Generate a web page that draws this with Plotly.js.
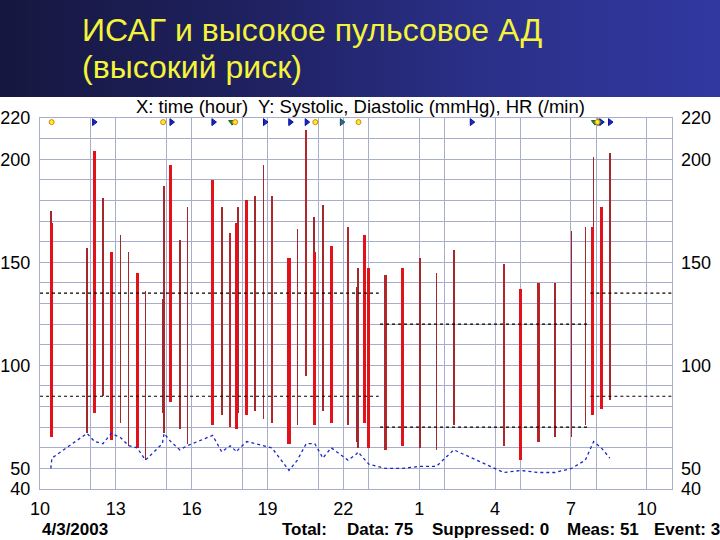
<!DOCTYPE html>
<html>
<head>
<meta charset="utf-8">
<script src="https://cdn.plot.ly/plotly-3.0.1.min.js"></script>
<style>
  html, body { margin: 0; padding: 0; background: #ffffff; }
  #wrap { width: 720px; height: 540px; position: relative;
    background: linear-gradient(to right, #16173f 0%, #1f2160 35%, #2a2f86 65%, #3138a0 100%) top left / 720px 97px no-repeat, #ffffff; }
  #chart { width: 720px; height: 540px; }
</style>
</head>
<body>
<div id="wrap"><div id="chart"></div></div>
<script>
// ---- data ----
// time in hours since 0:00 of 4/3/2003 (values > 24 are the next day)
const times = [10.43, 10.47, 11.86, 12.16, 12.49, 12.82, 13.18, 13.51, 13.84, 14.17,
  14.84, 14.91, 15.17, 15.53, 15.83, 16.83, 17.19, 17.52, 17.79, 17.83,
  18.18, 18.51, 18.84, 19.17, 19.85, 20.18, 20.53, 20.83, 20.87, 21.19,
  21.52, 22.18, 22.52, 22.58, 22.85, 23.01, 23.66, 24.35, 25.03, 25.68,
  26.37, 28.35, 29.02, 29.72, 30.37, 31.03, 31.57, 31.86, 31.90, 32.20, 32.54];
const systolic = [175, 169, 157, 204, 181, 155, 163, 155, 145, 136,
  132, 187, 197, 161, 177, 190, 177, 164, 169, 177,
  180, 182, 197, 182, 152, 166, 214, 172, 155, 178,
  158, 167, 138, 147, 163, 147, 144, 147, 152, 145,
  156, 149, 137, 140, 140, 165, 167, 167, 201, 177, 203];
const diastolic = [66, 65, 67, 77, 85, 64, 72, 61, 60, 54,
  77, 67, 82, 69, 62, 71, 76, 70, 69, 77,
  76, 78, 74, 72, 62, 71, 95, 76, 71, 78,
  72, 71, 63, 60, 72, 60, 59, 61, 60, 59,
  71, 61, 54, 63, 65, 65, 71, 76, 77, 79, 83];
const heartRate = [50, 55, 67, 63, 62, 67, 65, 61, 60, 54,
  62, 67, 63, 59, 61, 66, 58, 61, 58, 59,
  63, 62, 61, 60, 49, 54, 62, 62, 62, 55,
  60, 54, 57, 58, 54, 52, 50, 50, 51, 51,
  59, 48, 49, 48, 48, 50, 54, 62, 63, 60, 55];
// bar style class: R = bright red, D = dark red, T = thin dark red
const barClass = ['T','R','T','R','T','R','T','T','R','T',
  'T','T','R','T','T','R','T','D','R','T',
  'R','T','T','D','R','T','D','T','R','T',
  'R','D','T','T','R','R','D','R','T','T',
  'T','D','R','D','T','T','T','R','T','R','T'];

// threshold limits
const dayLimits = [135, 85];
const nightLimits = [120, 70];
const daySegments = [[10, 23.4], [31.77, 35]];
const nightSegment = [23.45, 31.75];

// event markers along the top
const eventY = 218;
const yellowEvents = [10.46, 14.87, 17.72, 20.89, 22.6, 32.05];
const blueFlags = [12.14, 15.2, 16.86, 18.9, 19.9, 20.55, 27.08, 32.2, 32.55];
const greenEvents = [17.6, 31.95];
const tealFlags = [21.94, 32.12];

// axis tick labels
const xTickVals = [10, 13, 16, 19, 22, 25, 28, 31, 34];
const xTickText = ['10', '13', '16', '19', '22', '1', '4', '7', '10'];
const xExtraGrid = [12, 15, 18, 21, 23, 26, 29, 32];
const yTickVals = [40, 50, 100, 150, 200, 220];

// ---- build traces ----
const classStyle = {
  R: {color: '#e3121a', width: 0.12},
  D: {color: '#b3262a', width: 0.10},
  T: {color: '#a3282c', width: 0.06}
};
const traces = [];
['T', 'D', 'R'].forEach(function (c) {
  const xs = [], bs = [], hs = [];
  times.forEach(function (t, i) {
    if (barClass[i] === c) {
      xs.push(t); bs.push(diastolic[i]); hs.push(systolic[i] - diastolic[i]);
    }
  });
  traces.push({
    type: 'bar', x: xs, base: bs, y: hs,
    width: classStyle[c].width,
    marker: {color: classStyle[c].color, line: {width: 0}},
    hoverinfo: 'skip', showlegend: false
  });
});

function segTrace(xsegs, val) {
  const xs = [], ys = [];
  xsegs.forEach(function (s, k) {
    if (k > 0) { xs.push(null); ys.push(null); }
    xs.push(s[0], s[1]); ys.push(val, val);
  });
  return {type: 'scatter', mode: 'lines', x: xs, y: ys,
    line: {color: '#000000', width: 1.2, dash: 'dot'}, hoverinfo: 'skip', showlegend: false};
}
dayLimits.forEach(function (v) { traces.push(segTrace(daySegments, v)); });
nightLimits.forEach(function (v) { traces.push(segTrace([nightSegment], v)); });

traces.push({
  type: 'scatter', mode: 'lines', x: times, y: heartRate,
  line: {color: '#1a28c8', width: 1.3, dash: 'dot'}, hoverinfo: 'skip', showlegend: false
});

function eventTrace(xs, symbol, color, lineColor, size) {
  return {type: 'scatter', mode: 'markers', x: xs, y: xs.map(function () { return eventY; }),
    marker: {symbol: symbol, color: color, size: size, line: {color: lineColor, width: 1}},
    cliponaxis: false, hoverinfo: 'skip', showlegend: false};
}
traces.push(eventTrace(blueFlags, 'triangle-right', '#1626c8', '#0a1090', 6));
traces.push(eventTrace(tealFlags, 'triangle-right', '#1f6f96', '#124a66', 6));
traces.push(eventTrace(greenEvents, 'triangle-down', '#2e8b2e', '#1c5c1c', 6));
traces.push(eventTrace(yellowEvents, 'circle', '#ffe83a', '#d08a00', 5));

// invisible trace to carry the right axis
traces.push({type: 'scatter', mode: 'markers', x: [10], y: [40], yaxis: 'y2',
  marker: {opacity: 0}, hoverinfo: 'skip', showlegend: false});

// ---- layout ----
const L = 40, R = 672, T = 118, B = 489;
function px(x) { return (x - L) / (R - L); }
function py(y) { return (B - y) / (B - T); }
const gridCol = '#a7aecb';
const fam = 'Liberation Sans, Arial, sans-serif';
const tickFont = {family: fam, size: 18, color: '#000000'};
const boldFont = {family: fam, size: 17, color: '#000000', weight: 'bold'};
const titleFont = {family: fam, size: 32, color: '#f4f43a'};

const layout = {
  width: 720, height: 540,
  margin: {l: L, r: 720 - R, t: T, b: 540 - B, pad: 0},
  paper_bgcolor: 'rgba(0,0,0,0)', plot_bgcolor: '#ffffff',
  barmode: 'overlay', bargap: 0,
  showlegend: false,
  xaxis: {
    range: [10, 35], tickmode: 'array', tickvals: xTickVals, ticktext: xTickText,
    showgrid: true, gridcolor: gridCol, gridwidth: 1,
    minor: {tickmode: 'array', tickvals: xExtraGrid, showgrid: true, gridcolor: gridCol, gridwidth: 1},
    showline: true, linecolor: gridCol, mirror: true, zeroline: false,
    ticks: '', tickfont: tickFont, ticklabelstandoff: 3, fixedrange: true
  },
  yaxis: {
    range: [40, 220], tickmode: 'array', tickvals: yTickVals,
    showgrid: true, gridcolor: gridCol, gridwidth: 1,
    minor: {dtick: 10, tick0: 0, showgrid: true, gridcolor: gridCol, gridwidth: 1},
    showline: true, linecolor: gridCol, mirror: true, zeroline: false,
    ticks: '', tickfont: tickFont, ticklabelstandoff: 5, fixedrange: true
  },
  yaxis2: {
    range: [40, 220], overlaying: 'y', side: 'right', tickmode: 'array', tickvals: yTickVals,
    showgrid: false, zeroline: false, showline: false, ticks: '',
    tickfont: tickFont, ticklabelstandoff: 8, fixedrange: true
  },
  annotations: [
    {text: 'ИСАГ и высокое пульсовое АД', xref: 'paper', yref: 'paper', x: px(80), y: py(30),
      xanchor: 'left', yanchor: 'middle', showarrow: false, font: titleFont},
    {text: '(высокий риск)', xref: 'paper', yref: 'paper', x: px(80), y: py(67),
      xanchor: 'left', yanchor: 'middle', showarrow: false, font: titleFont},
    {text: 'X: time (hour)  Y: Systolic, Diastolic (mmHg), HR (/min)', xref: 'paper', yref: 'paper',
      x: px(360), y: py(106), xanchor: 'center', yanchor: 'middle', showarrow: false,
      font: {family: fam, size: 18.5, color: '#000000'}},
    {text: '4/3/2003', xref: 'paper', yref: 'paper', x: px(40), y: py(529),
      xanchor: 'left', yanchor: 'middle', showarrow: false, font: boldFont},
    {text: 'Total:', xref: 'paper', yref: 'paper', x: px(280), y: py(529),
      xanchor: 'left', yanchor: 'middle', showarrow: false, font: boldFont},
    {text: 'Data: 75', xref: 'paper', yref: 'paper', x: px(345), y: py(529),
      xanchor: 'left', yanchor: 'middle', showarrow: false, font: boldFont},
    {text: 'Suppressed: 0', xref: 'paper', yref: 'paper', x: px(430), y: py(529),
      xanchor: 'left', yanchor: 'middle', showarrow: false, font: boldFont},
    {text: 'Meas: 51', xref: 'paper', yref: 'paper', x: px(565), y: py(529),
      xanchor: 'left', yanchor: 'middle', showarrow: false, font: boldFont},
    {text: 'Event: 3', xref: 'paper', yref: 'paper', x: px(652), y: py(529),
      xanchor: 'left', yanchor: 'middle', showarrow: false, font: boldFont}
  ]
};

Plotly.newPlot('chart', traces, layout, {staticPlot: true, displayModeBar: false});
</script>
</body>
</html>
